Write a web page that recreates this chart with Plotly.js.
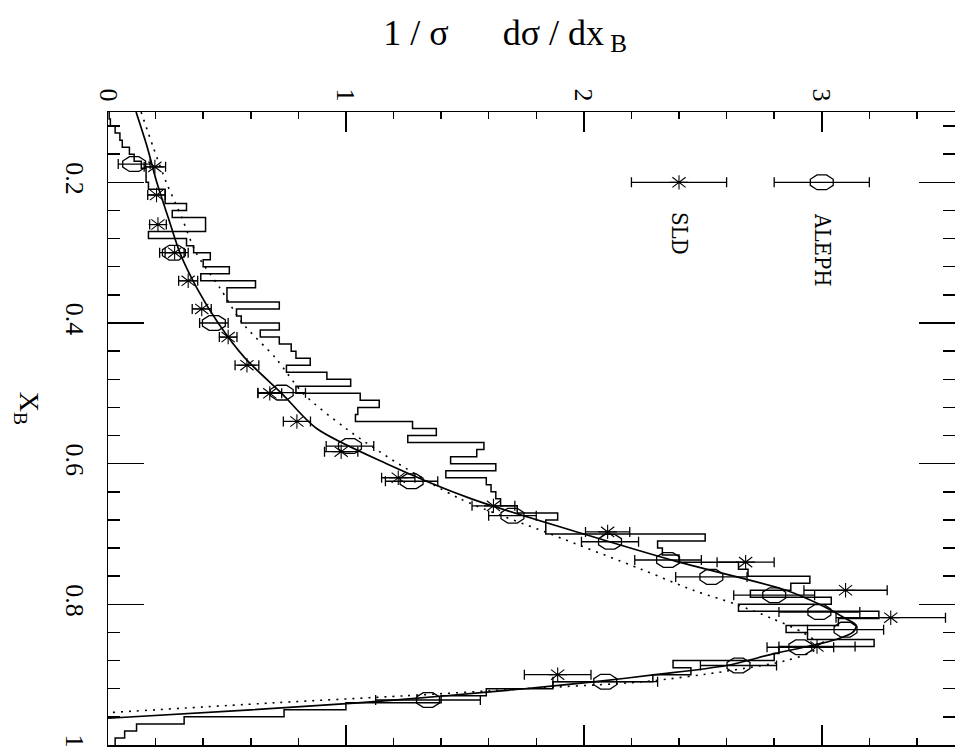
<!DOCTYPE html>
<html>
<head>
<meta charset="utf-8">
<script src="https://cdn.plot.ly/plotly-3.0.1.min.js"></script>
<style>html,body{margin:0;padding:0;background:#fff;}#chart{width:955px;height:751px;}</style>
</head>
<body>
<div id="chart"></div>
<script>
// ---- data (x_B along the vertical axis, 1/sigma dsigma/dx_B along the horizontal one) ----
const histStart = 0.10;
const histBinWidth = 0.01;
const histValues = [
  0.005, 0.01, 0.03, 0.05, 0.06, 0.09, 0.11, 0.14, 0.16, 0.16,
  0.17, 0.24, 0.24, 0.33, 0.27, 0.41, 0.41, 0.17, 0.33, 0.36,
  0.43, 0.40, 0.51, 0.39, 0.62, 0.50, 0.50, 0.72, 0.54, 0.56,
  0.72, 0.64, 0.72, 0.77, 0.79, 0.85, 0.75, 0.92, 1.02, 0.79,
  1.06, 1.14, 1.05, 1.04, 1.28, 1.38, 1.26, 1.58, 1.55, 1.44,
  1.63, 1.42, 1.59, 1.61, 1.63, 1.65, 1.72, 1.89, 1.84, 1.84,
  2.51, 2.31, 2.33, 2.40, 2.65, 2.69, 2.95, 2.87, 2.70, 3.04,
  2.65, 3.24, 3.07, 2.85, 2.94, 3.22, 2.82, 2.80, 2.375, 2.45,
  2.29, 1.87, 1.59, 1.40, 1.00, 0.74, 0.32, 0.12, 0.07, 0.03
];

const alephXB  = [0.174, 0.300, 0.400, 0.499, 0.575, 0.625, 0.674, 0.711, 0.737, 0.761, 0.787, 0.811, 0.836, 0.861, 0.887, 0.910, 0.936];
const alephVal = [0.11, 0.277, 0.445, 0.73, 1.017, 1.276, 1.70, 2.11, 2.354, 2.536, 2.80, 2.99, 3.10, 2.91, 2.65, 2.09, 1.345];
const alephErr = [0.067, 0.06, 0.06, 0.10, 0.10, 0.11, 0.10, 0.12, 0.14, 0.15, 0.17, 0.17, 0.16, 0.14, 0.16, 0.22, 0.22];

const sldXB  = [0.178, 0.218, 0.26, 0.30, 0.34, 0.38, 0.42, 0.46, 0.50, 0.54, 0.583, 0.62, 0.66, 0.697, 0.74, 0.78, 0.819, 0.86, 0.90];
const sldVal = [0.197, 0.204, 0.21, 0.28, 0.337, 0.394, 0.505, 0.584, 0.68, 0.794, 0.98, 1.22, 1.62, 2.10, 2.68, 3.10, 3.29, 2.98, 1.89];
const sldErr = [0.045, 0.037, 0.035, 0.04, 0.04, 0.04, 0.037, 0.05, 0.05, 0.057, 0.07, 0.07, 0.09, 0.093, 0.12, 0.175, 0.23, 0.16, 0.14];

const fitXB  = [0.10, 0.15, 0.20, 0.25, 0.30, 0.35, 0.40, 0.45, 0.50, 0.55, 0.60, 0.65, 0.70, 0.74, 0.78, 0.80, 0.82, 0.83, 0.84, 0.85, 0.86, 0.87, 0.887, 0.90, 0.91, 0.92, 0.93, 0.94, 0.95, 0.962];
const fitVal = [0.118, 0.165, 0.205, 0.253, 0.302, 0.373, 0.463, 0.576, 0.73, 0.877, 1.171, 1.528, 2.0, 2.40, 2.85, 2.99, 3.10, 3.145, 3.13, 3.06, 2.94, 2.80, 2.60, 2.30, 2.05, 1.75, 1.42, 1.05, 0.60, 0.0];

const dotXB  = [0.10, 0.15, 0.20, 0.25, 0.30, 0.35, 0.40, 0.45, 0.50, 0.55, 0.60, 0.65, 0.70, 0.75, 0.78, 0.80, 0.82, 0.84, 0.855, 0.865, 0.88, 0.895, 0.91, 0.92, 0.93, 0.94, 0.954];
const dotVal = [0.139, 0.19, 0.245, 0.31, 0.37, 0.47, 0.565, 0.705, 0.82, 1.0, 1.22, 1.48, 1.86, 2.24, 2.46, 2.64, 2.79, 2.92, 2.98, 2.97, 2.85, 2.60, 2.25, 1.75, 1.25, 0.70, 0.0];

const xTickVals = [0, 1, 2, 3];
const xTickText = ['0', '1', '2', '3'];
const yTickVals = [0.2, 0.4, 0.6, 0.8, 1.0];
const yTickText = ['0.2', '0.4', '0.6', '0.8', '1'];

const legendNames = ['ALEPH', 'SLD'];
const legendVal = [3.0, 2.4];
const legendXB = [0.2, 0.2];
const legendErr = [0.2, 0.2];
const legendLabelXB = [0.296, 0.272];

// ---- build histogram step line ----
const histEdges = [];
for (let i = 0; i <= histValues.length; i++) histEdges.push(+(histStart + i * histBinWidth).toFixed(4));
const histX = histValues.concat([histValues[histValues.length - 1]]);

const black = '#000';
const serif = '"Liberation Serif", "Times New Roman", serif';
const serifC = '"DejaVu Serif Condensed", "DejaVu Serif", serif';

const octMarker = {symbol: 'octagon-open', size: 16, color: black, line: {width: 1.3, color: black}};
const starMarker = {symbol: 'asterisk-open', size: 12, color: black, line: {width: 1.1, color: black}};
const errStyle = (arr) => ({type: 'data', array: arr, visible: true, color: black, thickness: 1.3, width: 5});

const traces = [
  {x: histX, y: histEdges, mode: 'lines', line: {shape: 'vh', color: black, width: 1.5}},
  {x: dotVal, y: dotXB, mode: 'lines', line: {shape: 'spline', smoothing: 0.8, color: black, width: 1.6, dash: '2px,6px'}},
  {x: fitVal, y: fitXB, mode: 'lines', line: {shape: 'spline', smoothing: 0.8, color: black, width: 1.7}},
  {x: alephVal, y: alephXB, mode: 'markers', marker: octMarker, error_x: errStyle(alephErr), name: 'oct'},
  {x: sldVal, y: sldXB, mode: 'markers', marker: starMarker, error_x: errStyle(sldErr), name: 'star'},
  {x: [legendVal[0]], y: [legendXB[0]], mode: 'markers', marker: octMarker, error_x: errStyle([legendErr[0]]), name: 'oct'},
  {x: [legendVal[1]], y: [legendXB[1]], mode: 'markers', marker: starMarker, error_x: errStyle([legendErr[1]]), name: 'star'}
];

const axisCommon = {
  showline: true, linecolor: black, linewidth: 1.5, mirror: 'allticks',
  ticks: 'inside', tickcolor: black, tickwidth: 1.5,
  showgrid: false, zeroline: false, tickangle: 90,
  tickfont: {family: serif, size: 26, color: black}
};

const layout = {
  width: 955, height: 751,
  margin: {l: 108, r: 0, t: 112, b: 6, pad: 0},
  paper_bgcolor: '#fff', plot_bgcolor: '#fff',
  showlegend: false,
  title: {
    text: '1 / σ &nbsp;&nbsp;&nbsp;&nbsp; dσ / dx<sub>&nbsp;B</sub>',
    font: {family: serif, size: 36, color: black},
    x: 0.529, xref: 'container', xanchor: 'center',
    y: 0.957, yref: 'container', yanchor: 'middle'
  },
  xaxis: Object.assign({}, axisCommon, {
    range: [0, 3.56], side: 'top', tickvals: xTickVals, ticktext: xTickText, ticklen: 20,
    ticklabelstandoff: 0,
    minor: {dtick: 0.2, tick0: 0, ticks: 'inside', ticklen: 7, tickcolor: black, tickwidth: 1.5}
  }),
  yaxis: Object.assign({}, axisCommon, {
    range: [1.0, 0.1], tickvals: yTickVals, ticktext: yTickText, ticklen: 36,
    ticklabelstandoff: 9,
    minor: {dtick: 0.04, tick0: 0, ticks: 'inside', ticklen: 12, tickcolor: black, tickwidth: 1.5}
  }),
  annotations: [
    {xref: 'paper', yref: 'paper', x: -0.095, y: 0.532, text: 'X<sub>B</sub>', showarrow: false, textangle: 90,
     font: {family: serif, size: 28, color: black}, xanchor: 'center', yanchor: 'middle'},
    {x: legendVal[0], y: legendLabelXB[0], xref: 'x', yref: 'y', text: legendNames[0], showarrow: false, textangle: 90,
     font: {family: serifC, size: 22, color: black}},
    {x: legendVal[1], y: legendLabelXB[1], xref: 'x', yref: 'y', text: legendNames[1], showarrow: false, textangle: 90,
     font: {family: serifC, size: 22, color: black}}
  ]
};

Plotly.newPlot('chart', traces, layout, {staticPlot: true, displayModeBar: false}).then(function (gd) {
  // the reference markers are wider than tall: stretch each marker glyph horizontally
  const groups = gd.querySelectorAll('.scatterlayer .trace');
  groups.forEach(function (g, i) {
    const tr = gd._fullData[i];
    if (!tr || tr.mode !== 'markers') return;
    const sx = tr.marker.symbol === 'octagon-open' ? 1.55 : 1.3;
    g.querySelectorAll('.points path.point').forEach(function (p) {
      p.setAttribute('transform', (p.getAttribute('transform') || '') + ' scale(' + sx + ',1)');
      p.setAttribute('vector-effect', 'non-scaling-stroke');
    });
  });
});
</script>
</body>
</html>
